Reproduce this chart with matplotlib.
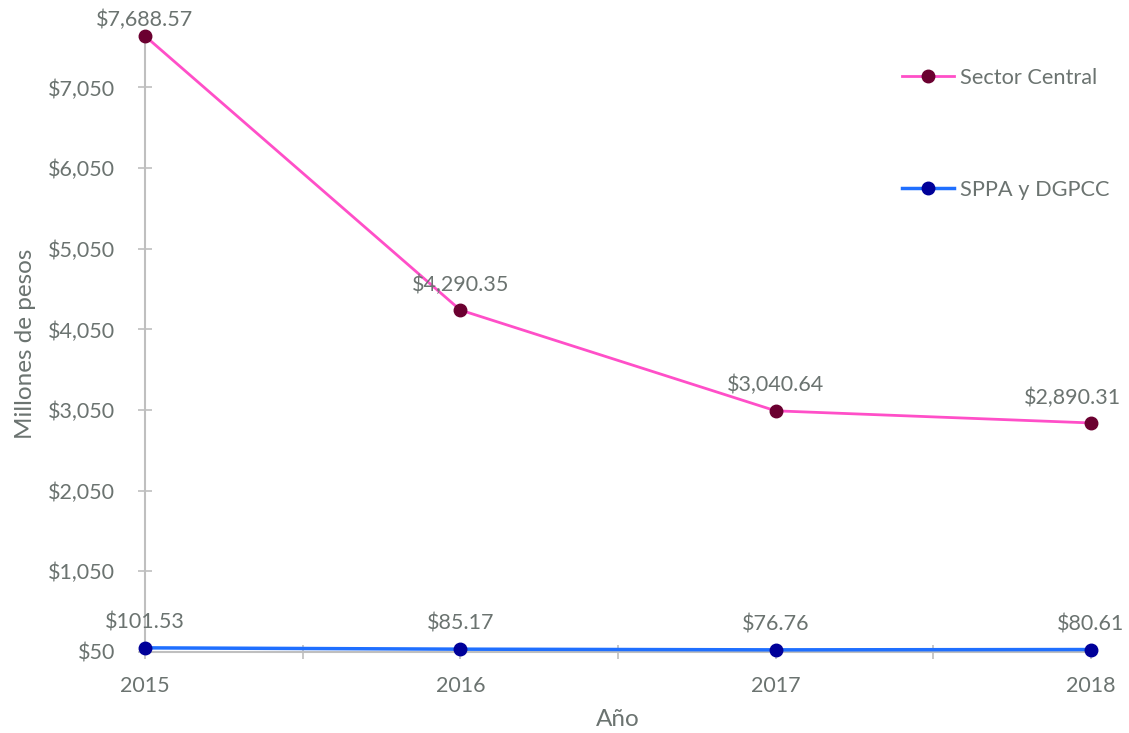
import matplotlib
matplotlib.use("Agg")
import matplotlib.pyplot as plt
from matplotlib.ticker import FuncFormatter, MultipleLocator, FixedLocator

years = [2015, 2016, 2017, 2018]
sector_central = [7688.57, 4290.35, 3040.64, 2890.31]
sppa_dgpcc = [101.53, 85.17, 76.76, 80.61]
series_names = ["Sector Central", "SPPA y DGPCC"]
y_ticks = [50, 1050, 2050, 3050, 4050, 5050, 6050, 7050]

plt.rcParams['font.family'] = ['Lato', 'DejaVu Sans']
txt = '#6b7370'
grid_c = '#bfbfbf'
fs = 15.5

fig = plt.figure(figsize=(11.29, 7.33), dpi=100)
ax = fig.add_axes([145/1129, 81/733, 946/1129, (652-36)/733])

l1, = ax.plot(years, sector_central, color='#ff4fc8', lw=2, marker='o', ms=9,
              mfc='#6b0030', mec='#6b0030', label=series_names[0], zorder=3, clip_on=False)
l2, = ax.plot(years, sppa_dgpcc, color='#1f6fff', lw=2.5, marker='o', ms=9,
              mfc='#000099', mec='#000099', label=series_names[1], zorder=3, clip_on=False)

ymax = max(sector_central)

def label_points(xs, vals):
    n = len(xs)
    for i, (x, v) in enumerate(zip(xs, vals)):
        dx = -13 if i == n - 1 else 0     # keep last label inside the figure
        dy = 4 if v >= ymax else 11       # keep top label inside the figure
        ax.annotate(f"${v:,.2f}", (x, v), xytext=(dx, dy), textcoords='offset points',
                    ha='center', va='bottom', fontsize=fs, color=txt, annotation_clip=False)

def label_points_small(xs, vals):
    for x, v in zip(xs, vals):
        ax.annotate(f"${v:,.2f}", (x, v), xytext=(0, 11), textcoords='offset points',
                    ha='center', va='bottom', fontsize=fs, color=txt, annotation_clip=False)

label_points(years, sector_central)
label_points_small(years, sppa_dgpcc)

ax.set_xlim(2015, 2018)
ax.set_ylim(50, ymax)
ax.yaxis.set_major_locator(FixedLocator(y_ticks))
ax.yaxis.set_major_formatter(FuncFormatter(lambda v, p: f"${v:,.0f}"))
ax.xaxis.set_major_locator(FixedLocator(years))
ax.xaxis.set_minor_locator(MultipleLocator(0.5))
ax.xaxis.set_major_formatter(FuncFormatter(lambda v, p: f"{int(v)}"))

for s in ['top', 'right']:
    ax.spines[s].set_visible(False)
for s in ['left', 'bottom']:
    ax.spines[s].set_color(grid_c)
    ax.spines[s].set_linewidth(1.5)

ax.tick_params(axis='y', direction='inout', length=10, width=1.2, color=grid_c,
               labelsize=fs, labelcolor=txt, pad=16.5)
ax.tick_params(axis='x', which='both', direction='inout', length=10, width=1.2, color=grid_c,
               labelsize=fs, labelcolor=txt, pad=12)

ax.set_ylabel("Millones de pesos", fontsize=17.5, color=txt, labelpad=9)
ax.set_xlabel("Año", fontsize=17.5, color=txt, labelpad=10)

leg = ax.legend(handles=[l1, l2], loc='upper right', bbox_to_anchor=(1.04, 0.98),
                frameon=False, fontsize=15.7, labelcolor=txt, labelspacing=4.2,
                handlelength=2.4, handletextpad=0.25)

fig.savefig("out.png", dpi=100)
